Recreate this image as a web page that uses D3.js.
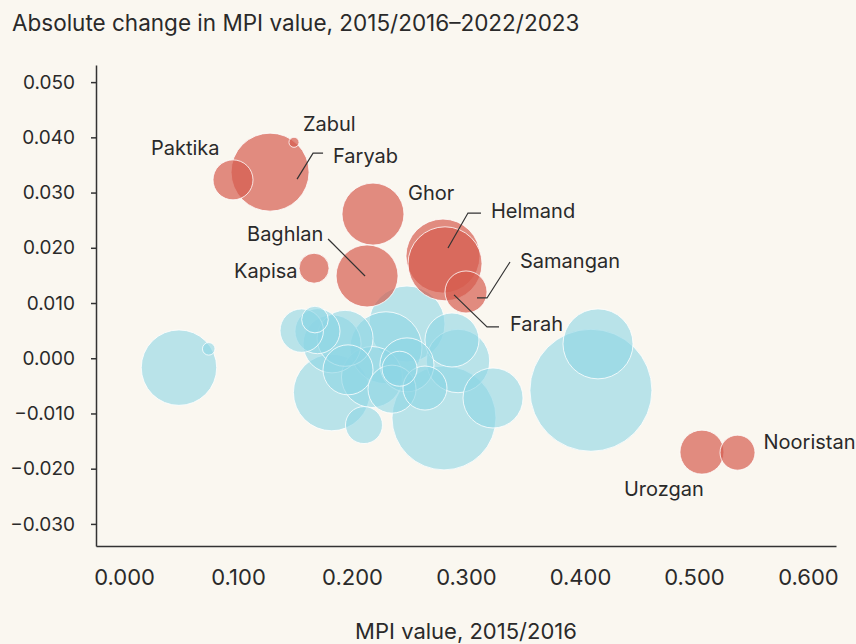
<!DOCTYPE html>
<html>
<head>
<meta charset="utf-8">
<script src="https://cdn.jsdelivr.net/npm/d3@7"></script>
<style>
  html, body { margin: 0; padding: 0; background: #faf7f0; }
  svg { display: block; font-family: Inter, "Open Sans", sans-serif; }
</style>
</head>
<body>
<div id="chart"></div>
<script>
const WIDTH = 856
const HEIGHT = 644

// provinces with a labelled bubble (poverty went up)
const redNames = ['Paktika', 'Faryab', 'Zabul', 'Ghor', 'Baghlan', 'Kapisa', 'Helmand', 'Farah', 'Samangan', 'Urozgan', 'Nooristan']
const redMpi = [0.0956, 0.1281, 0.1491, 0.2184, 0.2132, 0.1667, 0.2798, 0.2816, 0.3000, 0.5070, 0.5382]
const redChange = [0.0323, 0.0337, 0.0391, 0.0261, 0.0149, 0.0163, 0.0185, 0.0171, 0.0120, -0.0170, -0.0171]
const redPop = [537, 2044, 34, 1291, 1291, 302, 1840, 1840, 593, 650, 411]

// the other provinces (unlabelled)
const blueMpi = [0.0482, 0.0743, 0.4096, 0.4158, 0.2807, 0.3237, 0.2877, 0.2930, 0.2482, 0.2105, 0.2640, 0.2417,
  0.2175, 0.2298, 0.1559, 0.1675, 0.1825, 0.1939, 0.1822, 0.1965, 0.2482, 0.1697, 0.2351]
const blueChange = [-0.0017, 0.0017, -0.0058, 0.0026, -0.0108, -0.0072, 0.0033, -0.0005, 0.0062, -0.0121, -0.0054, -0.0019,
  -0.0034, 0.0019, 0.0050, 0.0070, 0.0026, 0.0036, -0.0062, -0.0021, -0.0012, 0.0049, -0.0056]
const bluePop = [1910, 53, 5000, 1646, 3633, 1209, 980, 1350, 1940, 460, 650, 411,
  1250, 1741, 633, 238, 1130, 1053, 1971, 840, 980, 680, 774]

const xTicks = [0, 0.1, 0.2, 0.3, 0.4, 0.5, 0.6]
const yTicks = [-0.03, -0.02, -0.01, 0, 0.01, 0.02, 0.03, 0.04, 0.05]

// label placement, offsets from the bubble centre
const labelPos = {
  Paktika: { dx: -82, dy: -25 },
  Zabul: { dx: 9, dy: -11 },
  Faryab: { dx: 63, dy: -9, line: [[27, 7], [43, -19], [53, -19]] },
  Ghor: { dx: 35, dy: -14 },
  Baghlan: { dx: -120, dy: -35, line: [[-39, -37], [-2, 0]] },
  Kapisa: { dx: -80, dy: 10 },
  Helmand: { dx: 48, dy: -38, line: [[5, -8], [25, -43], [38, -43]] },
  Samangan: { dx: 54, dy: -24, line: [[11, 6], [21, 6], [44, -30]] },
  Farah: { dx: 65, dy: 67, line: [[9, 31], [42, 63], [54, 63]] },
  Urozgan: { dx: -78, dy: 44 },
  Nooristan: { dx: 26, dy: -4 }
}

const x = d3.scaleLinear().domain([-0.0246, 0.6246]).range([96, 836])
const y = d3.scaleLinear().domain([-0.034, 0.0531]).range([546, 65])
const r = d3.scaleSqrt().domain([0, 5000]).range([0, 61])

const fmt = v => d3.format('.3f')(v).replace('-', '\u2212')

const svg = d3.select('#chart').append('svg')
  .attr('width', WIDTH)
  .attr('height', HEIGHT)

svg.append('rect').attr('width', WIDTH).attr('height', HEIGHT).attr('fill', '#faf7f0')

svg.append('text')
  .attr('x', 12)
  .attr('y', 31)
  .attr('font-size', 22.5)
  .attr('fill', '#2a2a2a')
  .text('Absolute change in MPI value, 2015/2016\u20132022/2023')

// y axis
const yAxis = svg.append('g')
  .attr('transform', 'translate(96,0)')
  .call(d3.axisLeft(y).tickValues(yTicks).tickSize(5).tickSizeOuter(0).tickPadding(16).tickFormat(fmt))
yAxis.select('.domain').attr('stroke', '#333').attr('stroke-width', 1.5)
yAxis.selectAll('.tick line').attr('stroke', '#333').attr('stroke-width', 1.5)
yAxis.selectAll('.tick text').attr('font-size', 19).attr('fill', '#2a2a2a').attr('font-family', 'Inter')

// x axis
const xAxis = svg.append('g')
  .attr('transform', 'translate(0,546)')
  .call(d3.axisBottom(x).tickValues(xTicks).tickSize(0).tickSizeOuter(0).tickPadding(23).tickFormat(fmt))
xAxis.select('.domain').attr('stroke', '#333').attr('stroke-width', 1.5)
xAxis.selectAll('.tick text').attr('font-size', 22).attr('fill', '#2a2a2a').attr('font-family', 'Inter')

svg.append('text')
  .attr('x', 466)
  .attr('y', 639)
  .attr('text-anchor', 'middle')
  .attr('font-size', 22)
  .attr('fill', '#2a2a2a')
  .text('MPI value, 2015/2016')

let bubbles = []
blueMpi.forEach((v, i) => bubbles.push({ mpi: v, change: blueChange[i], pop: bluePop[i], red: false }))
redNames.forEach((n, i) => bubbles.push({ name: n, mpi: redMpi[i], change: redChange[i], pop: redPop[i], red: true }))
bubbles.sort((a, b) => b.pop - a.pop)

svg.append('g').selectAll('circle')
  .data(bubbles)
  .enter().append('circle')
  .attr('cx', d => x(d.mpi))
  .attr('cy', d => y(d.change))
  .attr('r', d => r(d.pop))
  .attr('fill', d => d.red ? '#d55c4e' : '#8ed6e4')
  .attr('fill-opacity', d => d.red ? 0.7 : 0.6)
  .attr('stroke', '#fff')
  .attr('stroke-opacity', 0.8)
  .attr('stroke-width', 1)

// labels
const labels = svg.append('g')
redNames.forEach((n, i) => {
  const cx = x(redMpi[i])
  const cy = y(redChange[i])
  const p = labelPos[n]
  if (p.line) {
    labels.append('path')
      .attr('d', d3.line()(p.line.map(q => [cx + q[0], cy + q[1]])))
      .attr('fill', 'none')
      .attr('stroke', '#333')
      .attr('stroke-width', 1.2)
  }
  labels.append('text')
    .attr('x', cx + p.dx)
    .attr('y', cy + p.dy)
    .attr('font-size', 20)
    .attr('fill', '#2a2a2a')
    .text(n)
})
</script>
</body>
</html>
